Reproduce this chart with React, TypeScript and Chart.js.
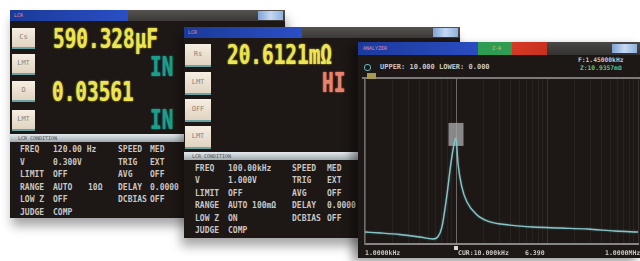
import React, { useEffect, useRef } from "react";
import { Chart, registerables } from "chart.js";

Chart.register(...registerables);

// ---- Sweep (screen 3) data ----
const SWEEP_FREQ_HZ = [1000, 1500, 2400, 4000, 5600, 6300, 7000, 8000, 8600, 9000, 10000, 10500, 11600, 13200, 17000, 23700, 39000, 70000, 140000, 280000, 560000, 1000000];
const IMPEDANCE = [0.72, 0.66, 0.57, 0.42, 0.3, 0.42, 1.02, 3.07, 4.46, 5.24, 6.39, 4.88, 3.43, 2.53, 1.75, 1.33, 1.14, 1.02, 0.96, 0.9, 0.78, 0.72];
const GRID_FREQ_HZ = [1000, 2000, 3000, 4000, 5000, 6000, 7000, 8000, 9000, 10000, 20000, 30000, 40000, 50000, 60000, 70000, 80000, 90000, 100000, 200000, 300000, 400000, 500000, 600000, 700000, 800000, 900000, 1000000];
const CURSOR_FREQ_HZ = 10000;
const X_MIN_HZ = 1000;
const X_MAX_HZ = 1000000;
const Y_LOWER = 0;
const Y_UPPER = 10;
const SWEEP_BOTTOM_LABELS = ["1.0000kHz", "CUR:10.000kHz", "6.390", "1.0000MHz"];

// ---- Meter screens data ----
const SCREEN1_PARAMS = [
  ["FREQ", "120.00 Hz", "", "SPEED", "MED"],
  ["V", "0.300V", "", "TRIG", "EXT"],
  ["LIMIT", "OFF", "", "AVG", "OFF"],
  ["RANGE", "AUTO", "10Ω", "DELAY", "0.0000"],
  ["LOW Z", "OFF", "", "DCBIAS", "OFF"],
  ["JUDGE", "COMP", "", "", ""],
];
const SCREEN2_PARAMS = [
  ["FREQ", "100.00kHz", "", "SPEED", "MED"],
  ["V", "1.000V", "", "TRIG", "EXT"],
  ["LIMIT", "OFF", "", "AVG", "OFF"],
  ["RANGE", "AUTO 100mΩ", "", "DELAY", "0.0000"],
  ["LOW Z", "ON", "", "DCBIAS", "OFF"],
  ["JUDGE", "COMP", "", "", ""],
];
const SCREEN1_BUTTONS = ["Cs", "LMT", "D", "LMT"];
const SCREEN2_BUTTONS = ["Rs", "LMT", "OFF", "LMT"];

const MONO = '"DejaVu Sans Mono", "Liberation Mono", monospace';
const SCREEN_BG = "#1d1715";

const big = (color: string): React.CSSProperties => ({
  position: "absolute",
  fontFamily: MONO,
  fontWeight: "bold",
  fontSize: 26,
  lineHeight: "26px",
  color,
  transform: "scaleX(0.745)",
  transformOrigin: "left top",
  whiteSpace: "nowrap",
  textShadow: `0 0 2px ${color}`,
});

function TitleBar({ blueW, btnRight }: { blueW: number; btnRight: number }) {
  return (
    <div style={{ position: "absolute", left: 0, top: 0, right: 0, height: 11, background: "linear-gradient(#55524f, #3b3937)" }}>
      <div style={{ position: "absolute", left: 0, top: 0, width: blueW, height: 11, background: "linear-gradient(90deg, #1a3a98, #2a4fc4)" }}>
        <span style={{ position: "absolute", left: 4, top: 2, fontSize: 5, lineHeight: "6px", color: "#e08ab0", fontFamily: MONO }}>LCR</span>
      </div>
      <div style={{ position: "absolute", right: btnRight, top: 1, width: 25, height: 9, background: "linear-gradient(90deg, #7fa2d4, #c4d8f2, #8eb0de)" }} />
    </div>
  );
}

function Buttons({ labels, left, width, height, tops }: { labels: string[]; left: number; width: number; height: number; tops: number[] }) {
  return (
    <>
      {labels.map((l, i) => (
        <div key={i} style={{ position: "absolute", left, top: tops[i], width, height, background: "linear-gradient(#f6eee2, #e0d3c0)", borderBottom: "2px solid #6aa2a6", boxSizing: "border-box", color: "#8c847c", fontFamily: MONO, fontSize: 7, lineHeight: `${height - 2}px`, textAlign: "center" }}>
          {l}
        </div>
      ))}
    </>
  );
}

function Params({ rows, top, step, cols }: { rows: string[][]; top: number; step: number; cols: number[] }) {
  return (
    <>
      {rows.map((r, i) =>
        r.map((c, j) =>
          c ? (
            <span key={`${i}-${j}`} style={{ position: "absolute", left: cols[j], top: top + i * step, fontFamily: MONO, fontSize: 8, lineHeight: "10px", fontWeight: "bold", color: "#c9c6c4", whiteSpace: "nowrap" }}>
              {c}
            </span>
          ) : null
        )
      )}
    </>
  );
}

function HeaderBar({ top }: { top: number }) {
  return (
    <div style={{ position: "absolute", left: 0, right: 0, top, height: 8, background: "linear-gradient(#e4ebee, #9ea9ae)" }}>
      <span style={{ position: "absolute", left: 8, top: 1, fontSize: 5, lineHeight: "6px", color: "#4a5256", fontFamily: MONO }}>LCR CONDITION</span>
    </div>
  );
}

function SweepChart() {
  const ref = useRef<HTMLCanvasElement>(null);
  useEffect(() => {
    const decor = {
      id: "sweepDecor",
      beforeDatasetsDraw(chart: any) {
        const { ctx, chartArea: a, scales } = chart;
        const cx = scales.x.getPixelForValue(CURSOR_FREQ_HZ);
        const peak = IMPEDANCE[SWEEP_FREQ_HZ.indexOf(CURSOR_FREQ_HZ)];
        const py = scales.y.getPixelForValue(peak);
        ctx.save();
        ctx.strokeStyle = "rgba(160,160,160,0.5)";
        ctx.lineWidth = 1;
        ctx.beginPath();
        ctx.moveTo(Math.round(cx) + 0.5, a.top);
        ctx.lineTo(Math.round(cx) + 0.5, a.bottom);
        ctx.stroke();
        ctx.fillStyle = "rgba(165,165,165,0.8)";
        ctx.fillRect(cx - 7.5, py - 15, 15, 23);
        ctx.restore();
      },
      beforeDatasetDraw(chart: any) {
        const ctx = chart.ctx;
        ctx.save();
        ctx.shadowColor = "rgba(110,190,195,0.5)";
        ctx.shadowBlur = 2;
      },
      afterDatasetDraw(chart: any) {
        chart.ctx.restore();
      },
      afterDraw(chart: any) {
        const { ctx, chartArea: a, scales } = chart;
        ctx.save();
        ctx.strokeStyle = "#7c7a78";
        ctx.lineWidth = 2;
        ctx.beginPath();
        ctx.moveTo(a.left - 3, a.top);
        ctx.lineTo(chart.width, a.top);
        ctx.stroke();
        const cx = scales.x.getPixelForValue(CURSOR_FREQ_HZ);
        ctx.fillStyle = "#d8d8d8";
        ctx.fillRect(cx - 2, a.bottom + 2, 4, 4);
        ctx.restore();
      },
    };
    const chart = new Chart(ref.current as HTMLCanvasElement, {
      type: "line",
      data: {
        datasets: [
          {
            data: SWEEP_FREQ_HZ.map((f, i) => ({ x: f, y: IMPEDANCE[i] })),
            borderColor: "#86c4c7",
            borderWidth: 1.4,
            pointRadius: 0,
            cubicInterpolationMode: "monotone",
            fill: false,
          },
        ],
      },
      options: {
        animation: false,
        responsive: false,
        maintainAspectRatio: false,
        layout: { padding: { left: 7, right: 2, top: 6, bottom: 6 } },
        plugins: { legend: { display: false }, tooltip: { enabled: false } },
        scales: {
          x: {
            type: "logarithmic",
            min: X_MIN_HZ,
            max: X_MAX_HZ,
            afterBuildTicks: (s: any) => {
              s.ticks = GRID_FREQ_HZ.map((v) => ({ value: v }));
            },
            ticks: { display: false },
            grid: {
              drawTicks: false,
              color: (c: any) => (c.tick && [1000, 10000, 100000, 1000000].includes(c.tick.value) ? "rgba(150,150,150,0.22)" : "rgba(140,140,140,0.11)"),
              lineWidth: 1,
            },
            border: { display: true, color: "#888684", width: 2 },
          },
          y: {
            min: Y_LOWER,
            max: Y_UPPER,
            ticks: { display: false },
            grid: { display: false, drawTicks: false },
            border: { display: true, color: "#6e6c6a", width: 1.5 },
          },
        },
      },
      plugins: [decor],
    } as any);
    return () => chart.destroy();
  }, []);
  return <canvas ref={ref} width={282} height={178} style={{ position: "absolute", left: 0, top: 30, width: 282, height: 178 }} />;
}

export default function App() {
  useEffect(() => {
    document.body.style.margin = "0";
  }, []);
  const smallTxt: React.CSSProperties = { position: "absolute", fontFamily: MONO, fontWeight: "bold", whiteSpace: "nowrap" };
  return (
    <div style={{ position: "fixed", left: 0, top: 0, width: 640, height: 261, background: "#ffffff", overflow: "hidden" }}>
      {/* Screen 1 */}
      <div style={{ position: "absolute", left: 10, top: 10, width: 275, height: 208, background: SCREEN_BG, boxShadow: "2px 8px 10px rgba(0,0,0,0.35)", overflow: "hidden" }}>
        <TitleBar blueW={118} btnRight={2} />
        <Buttons labels={SCREEN1_BUTTONS} left={2} width={23} height={21} tops={[18, 44, 71, 100]} />
        <div style={{ ...big("#ece451"), left: 43, top: 16 }}>590.328µF</div>
        <div style={{ ...big("#1c9e8c"), left: 140, top: 44 }}>IN</div>
        <div style={{ ...big("#ece451"), left: 42, top: 69 }}>0.03561</div>
        <div style={{ ...big("#1c9e8c"), left: 140, top: 97 }}>IN</div>
        <HeaderBar top={124} />
        <Params rows={SCREEN1_PARAMS} top={135} step={12.6} cols={[10, 43, 78, 108, 140]} />
      </div>

      {/* Screen 2 */}
      <div style={{ position: "absolute", left: 184, top: 27, width: 276, height: 211, background: SCREEN_BG, boxShadow: "-3px 8px 10px rgba(0,0,0,0.35)", overflow: "hidden" }}>
        <TitleBar blueW={118} btnRight={2} />
        <Buttons labels={SCREEN2_BUTTONS} left={1} width={26} height={23} tops={[17, 45, 72, 99]} />
        <div style={{ ...big("#ece451"), left: 43, top: 15 }}>20.6121mΩ</div>
        <div style={{ ...big("#e8846e"), left: 138, top: 43 }}>HI</div>
        <HeaderBar top={125} />
        <Params rows={SCREEN2_PARAMS} top={137} step={12.4} cols={[11, 44, 100, 108, 143]} />
      </div>

      {/* Screen 3 */}
      <div style={{ position: "absolute", left: 358, top: 42, width: 284, height: 216, background: SCREEN_BG, boxShadow: "-6px 4px 9px rgba(0,0,0,0.4)", overflow: "hidden" }}>
        <div style={{ position: "absolute", left: 0, top: 0, right: 0, height: 13, background: "linear-gradient(#4a4846, #343230)" }}>
          <div style={{ position: "absolute", left: 0, top: 0, width: 120, height: 13, background: "linear-gradient(90deg, #1b3a9c, #2a4cc0)" }}>
            <span style={{ position: "absolute", left: 5, top: 3, fontSize: 5, lineHeight: "6px", color: "#e08ab0", fontFamily: MONO }}>ANALYZER</span>
          </div>
          <div style={{ position: "absolute", left: 120, top: 0, width: 34, height: 13, background: "#2e9c52" }}>
            <span style={{ position: "absolute", left: 14, top: 3, fontSize: 5, lineHeight: "6px", color: "#d8c060", fontFamily: MONO }}>Z-θ</span>
          </div>
          <div style={{ position: "absolute", left: 154, top: 0, width: 35, height: 13, background: "linear-gradient(90deg, #d63a26, #c8301e)" }} />
          <div style={{ position: "absolute", left: 254, top: 2, width: 25, height: 9, background: "linear-gradient(90deg, #7fa2d4, #c4d8f2, #8eb0de)" }} />
        </div>
        <div style={{ position: "absolute", left: 6, top: 22, width: 5, height: 5, borderRadius: 3, border: "1px solid #6fb6c0" }} />
        <span style={{ ...smallTxt, left: 22, top: 21, fontSize: 7, lineHeight: "8px", color: "#c8c6c4" }}>UPPER: 10.000 LOWER: 0.000</span>
        <span style={{ ...smallTxt, left: 220, top: 14, fontSize: 6.3, lineHeight: "7px", color: "#c8c6c4" }}>F:1.45000kHz</span>
        <span style={{ ...smallTxt, left: 222, top: 22, fontSize: 6.3, lineHeight: "7px", color: "#5cc092" }}>Z:10.9357mΩ</span>
        <div style={{ position: "absolute", left: 9, top: 31, width: 9, height: 6, background: "#a89a52", zIndex: 2 }} />
        <SweepChart />
        <span style={{ ...smallTxt, left: 7, top: 207, fontSize: 6.5, lineHeight: "8px", color: "#c8c6c4" }}>{SWEEP_BOTTOM_LABELS[0]}</span>
        <span style={{ ...smallTxt, left: 100, top: 207, fontSize: 6.5, lineHeight: "8px", color: "#c8c6c4" }}>{SWEEP_BOTTOM_LABELS[1]}</span>
        <span style={{ ...smallTxt, left: 167, top: 207, fontSize: 6.5, lineHeight: "8px", color: "#c8c6c4" }}>{SWEEP_BOTTOM_LABELS[2]}</span>
        <span style={{ ...smallTxt, left: 247, top: 207, fontSize: 6.5, lineHeight: "8px", color: "#c8c6c4" }}>{SWEEP_BOTTOM_LABELS[3]}</span>
      </div>
    </div>
  );
}
